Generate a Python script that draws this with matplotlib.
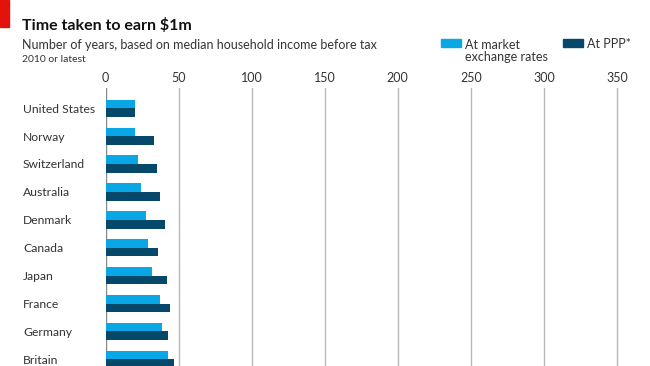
import matplotlib
matplotlib.use("Agg")
import matplotlib.pyplot as plt
import matplotlib.transforms as mtransforms
from matplotlib.patches import Rectangle
import numpy as np

plt.rcParams['font.family'] = ['Lato', 'DejaVu Sans']

countries = ["United States", "Norway", "Switzerland", "Australia", "Denmark",
             "Canada", "Japan", "France", "Germany", "Britain"]
market_rates = [20, 20, 22, 24, 28, 29, 32, 37, 39, 43]
ppp = [20, 33, 35, 37, 41, 36, 42, 44, 43, 47]
ticks = [0, 50, 100, 150, 200, 250, 300, 350]

light = '#0aa7e6'
dark = '#06486a'
text_col = '#333333'

fig = plt.figure(figsize=(6.5, 3.66), dpi=100)
ax = fig.add_axes([105.5 / 650, 0, 533.4 / 650, 1 - 88 / 366])

y = np.arange(len(countries))
h = 0.31
ax.barh(y - h / 2, market_rates, height=h, color=light, zorder=3)
ax.barh(y + h / 2, ppp, height=h, color=dark, zorder=3)

ax.set_xlim(0, 365)
ax.set_ylim(9.24, -0.73)
for s in ax.spines.values():
    s.set_visible(False)

ax.xaxis.tick_top()
ax.set_xticks(ticks)
ax.set_xticklabels([str(t) for t in ticks], fontsize=9, color=text_col)
ax.tick_params(axis='x', length=0, pad=3)
ax.set_yticks([])
for t in ticks:
    ax.axvline(t, color='#888888' if t == 0 else '#b8b8b8', lw=1, zorder=2)

trans = mtransforms.blended_transform_factory(fig.transFigure, ax.transData)
for i, c in enumerate(countries):
    ax.text(23 / 650, i + 0.03, c, transform=trans, ha='left', va='center',
            fontsize=8.7, color=text_col)

# header
fig.patches.append(Rectangle((0, 1 - 27 / 366), 9 / 650, 27 / 366,
                             transform=fig.transFigure, color='#e3120b'))
fig.text(22 / 650, 1 - 25 / 366, "Time taken to earn $1m", fontsize=11.5,
         fontweight='bold', color='#111111', va='center', ha='left')
fig.text(22 / 650, 1 - 45 / 366,
         "Number of years, based on median household income before tax",
         fontsize=9, color=text_col, va='center', ha='left')
fig.text(22 / 650, 1 - 59 / 366, "2010 or latest", fontsize=7.5,
         color=text_col, va='center', ha='left')

# legend
fig.patches.append(Rectangle((441 / 650, 1 - 47 / 366), 20 / 650, 8 / 366,
                             transform=fig.transFigure, color=light))
fig.text(465 / 650, 1 - 51 / 366, "At market\nexchange rates", fontsize=9,
         color=text_col, va='center', ha='left', linespacing=1.0)
fig.patches.append(Rectangle((563 / 650, 1 - 47 / 366), 20 / 650, 8 / 366,
                             transform=fig.transFigure, color=dark))
fig.text(587 / 650, 1 - 44.5 / 366, "At PPP*", fontsize=9,
         color=text_col, va='center', ha='left')

fig.savefig("out.png", dpi=100)
